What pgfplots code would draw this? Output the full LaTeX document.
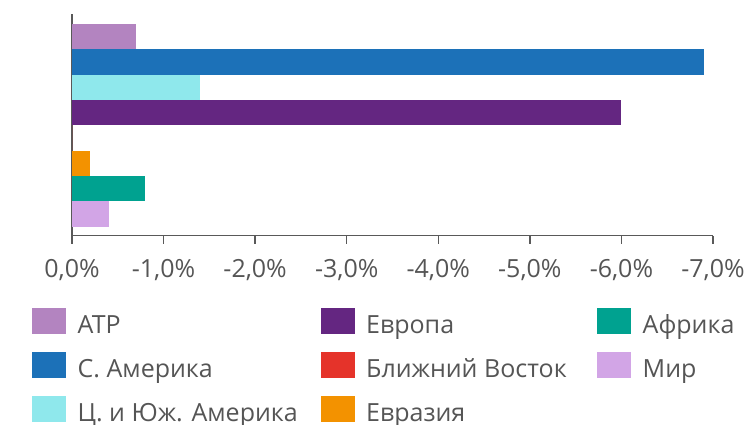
\documentclass[border=0pt]{standalone}
\usepackage{pgfplots}
\pgfplotsset{compat=1.18}
\usepackage{fontspec}
\setmainfont{Open Sans}
\definecolor{cATR}{HTML}{B384C0}
\definecolor{cSAm}{HTML}{1C71B8}
\definecolor{cCSAm}{HTML}{8FE8EC}
\definecolor{cEur}{HTML}{642681}
\definecolor{cME}{HTML}{E5332A}
\definecolor{cEurasia}{HTML}{F39200}
\definecolor{cAfr}{HTML}{00A290}
\definecolor{cWorld}{HTML}{D2A5E6}
\definecolor{axgray}{HTML}{595959}
\definecolor{txtgray}{HTML}{555555}
\pgfplotsset{
  mybar/.style={xbar, bar width=25.4pt, bar shift=0pt, draw=none, fill=#1,
    legend image code/.code={\fill[#1] (0pt,-9.5pt) rectangle (34pt,16.5pt);}},
}
\begin{document}
\begin{tikzpicture}
\path[use as bounding box] (0,0) rectangle (746pt,424pt);
\begin{axis}[
  at={(72pt,188.5pt)}, anchor=south west,
  scale only axis, width=641pt, height=221.5pt,
  x dir=reverse,
  xmin=-7, xmax=0, ymin=-0.85, ymax=7.9,
  axis x line*=bottom, axis y line*=left,
  axis line style={draw=axgray, line width=1.3pt},
  xtick={0,-1,-2,-3,-4,-5,-6,-7},
  xticklabels={{0,0\%},{-1,0\%},{-2,0\%},{-3,0\%},{-4,0\%},{-5,0\%},{-6,0\%},{-7,0\%}},
  ytick=\empty,
  tick align=outside, major tick length=8pt,
  xtick style={draw=axgray, line width=1.3pt},
  xticklabel style={font=\fontsize{25}{29}\selectfont, text=txtgray, inner sep=0pt, yshift=-15.5pt},
  legend columns=3,
  legend style={at={(-0.0624,-0.3273)}, anchor=north west, draw=none, fill=none,
    inner sep=0pt, row sep=14pt,
    nodes={inner sep=0pt, text height=22pt, text depth=5pt, font=\fontsize{25}{29}\selectfont, text=txtgray},
    /tikz/every odd column/.append style={column sep=11.5pt},
    /tikz/every even column/.append style={column sep=0pt}},
  legend cell align=left,
]
\addplot[mybar=cATR] coordinates {(-0.7,7)};
\addlegendentry{\makebox[243pt][l]{АТР}}
\addplot[mybar=cEur] coordinates {(-6.0,4)};
\addlegendentry{\makebox[231pt][l]{Европа}}
\addplot[mybar=cAfr] coordinates {(-0.8,1)};
\addlegendentry{Африка}
\addplot[mybar=cSAm] coordinates {(-6.9,6)};
\addlegendentry{\makebox[243pt][l]{С. Америка}}
\addplot[mybar=cME] coordinates {(0,3)};
\addlegendentry{\makebox[231pt][l]{Ближний Восток}}
\addplot[mybar=cWorld] coordinates {(-0.4,0)};
\addlegendentry{Мир}
\addplot[mybar=cCSAm] coordinates {(-1.4,5)};
\addlegendentry{\makebox[243pt][l]{Ц. и Юж. Америка}}
\addplot[mybar=cEurasia] coordinates {(-0.2,2)};
\addlegendentry{\makebox[231pt][l]{Евразия}}
\end{axis}
\end{tikzpicture}
\end{document}
